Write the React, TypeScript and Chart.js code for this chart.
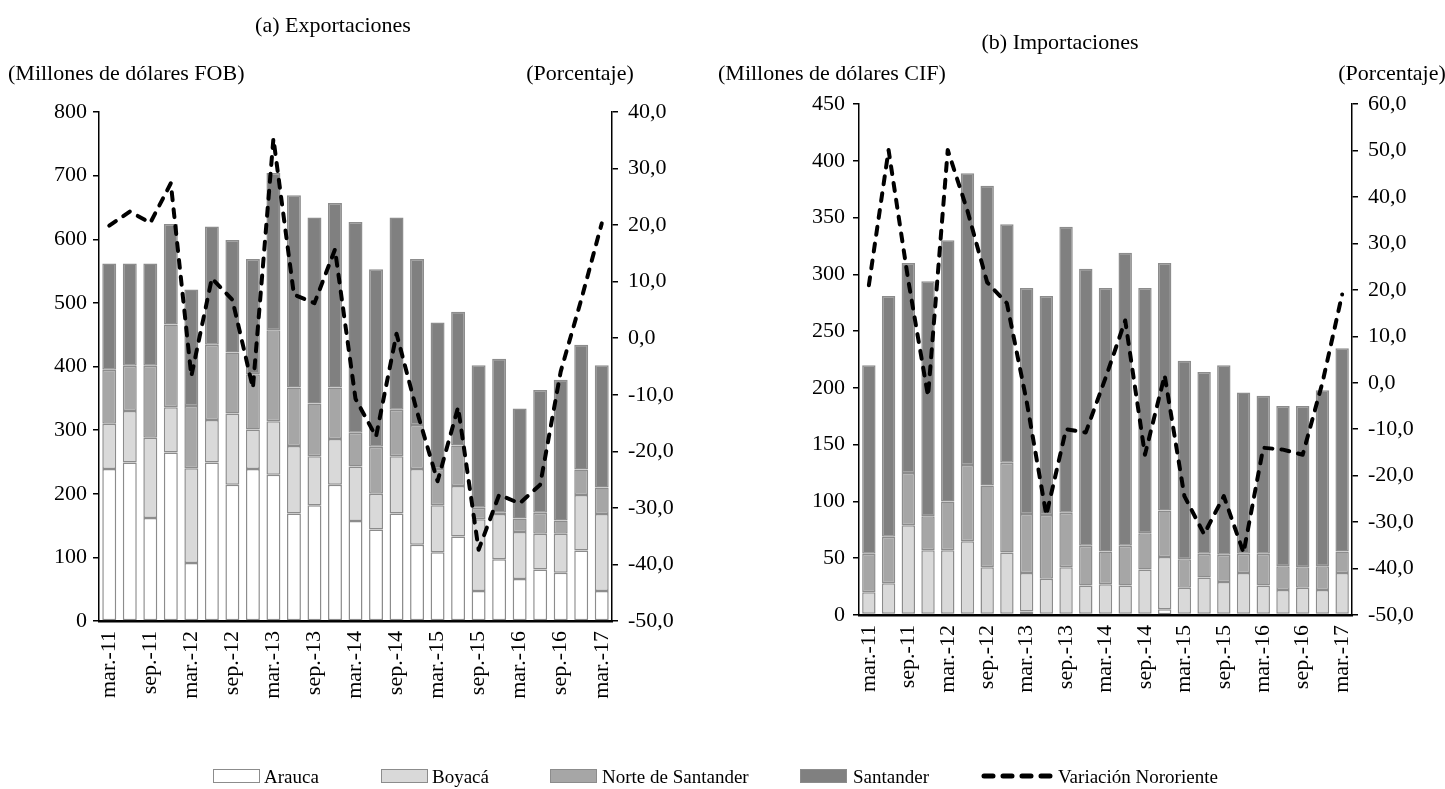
import React, { useEffect, useRef } from 'react';
import { Chart, registerables } from 'chart.js';

Chart.register(...registerables);

const FONT = '"Liberation Serif", "Times New Roman", serif';

// Quarterly categories (every second one is shown on the axis)
const categories = [
  'mar.-11', 'jun.-11', 'sep.-11', 'dic.-11',
  'mar.-12', 'jun.-12', 'sep.-12', 'dic.-12',
  'mar.-13', 'jun.-13', 'sep.-13', 'dic.-13',
  'mar.-14', 'jun.-14', 'sep.-14', 'dic.-14',
  'mar.-15', 'jun.-15', 'sep.-15', 'dic.-15',
  'mar.-16', 'jun.-16', 'sep.-16', 'dic.-16',
  'mar.-17',
];

const seriesNames = ['Arauca', 'Boyacá', 'Norte de Santander', 'Santander'];
const lineName = 'Variación Nororiente';

// (a) Exportaciones, millones de dólares FOB
const expArauca = [239, 249, 162, 265, 91, 249, 214, 239, 230, 169, 182, 214, 157, 144, 169, 120, 108, 133, 47, 97, 66, 81, 76, 111, 47];
const expBoyaca = [71, 81, 126, 71, 149, 67, 112, 62, 84, 106, 77, 72, 86, 56, 90, 119, 74, 79, 113, 71, 74, 56, 61, 87, 121];
const expNorte = [85, 71, 113, 130, 98, 118, 96, 87, 143, 92, 83, 81, 53, 74, 73, 69, 57, 64, 18, 2, 21, 33, 21, 40, 42];
const expSantander = [167, 161, 161, 158, 183, 186, 177, 181, 247, 302, 292, 290, 331, 279, 302, 261, 230, 210, 224, 242, 173, 193, 221, 196, 192];
const expVariacion = [19.9, 22.4, 20.4, 27.4, -6.7, 10.6, 6.8, -8.8, 35.3, 7.7, 6.2, 15.7, -10.7, -17.4, 0.8, -13.0, -25.3, -12.2, -37.4, -27.7, -29.2, -25.9, -5.9, 6.8, 20.3];

// (b) Importaciones, millones de dólares CIF
const impArauca = [1, 1, 1, 1, 1, 1, 1, 1, 3, 1, 1, 1, 1, 1, 1, 5, 1, 1, 1, 1, 1, 1, 1, 1, 1];
const impBoyaca = [19, 27, 78, 56, 56, 64, 41, 54, 34, 31, 41, 25, 26, 25, 39, 46, 23, 32, 28, 36, 25, 21, 23, 21, 36];
const impNorte = [34, 41, 46, 30, 43, 67, 72, 79, 52, 56, 48, 35, 29, 35, 32, 41, 25, 21, 24, 17, 28, 21, 18, 21, 19];
const impSantander = [166, 212, 185, 207, 230, 257, 264, 210, 199, 193, 252, 244, 232, 258, 216, 218, 175, 160, 167, 142, 139, 141, 142, 155, 179];
const impVariacion = [21.0, 50.1, 22.0, -2.9, 50.1, 37.0, 21.6, 17.1, -4.0, -28.5, -10.0, -10.7, 1.0, 13.4, -15.5, 1.6, -24.4, -32.6, -24.4, -36.6, -14.0, -14.4, -15.5, 0.0, 19.0];

const barFills = ['#ffffff', '#d9d9d9', '#a6a6a6', '#808080'];
const barBorder = '#8c8c8c';

type PanelSpec = {
  bars: number[][];
  line: number[];
  yMax: number;
  yStep: number;
  y1Min: number;
  y1Max: number;
  leftW: number;
  rightW: number;
  top: number;
  bottomH: number;
  barPct: number;
  yPad: number;
  y1Pad: number;
};

const pctFmt = (v: number) => v.toFixed(1).replace('.', ',');

function buildConfig(p: PanelSpec): any {
  const tickFont = { family: FONT, size: 22 };
  const barSets = p.bars.map((d, i) => ({
    type: 'bar',
    label: seriesNames[i],
    data: d,
    backgroundColor: barFills[i],
    borderColor: barBorder,
    borderWidth: 1.5,
    borderSkipped: false,
    yAxisID: 'y',
    order: 1,
    barPercentage: p.barPct,
    categoryPercentage: 1,
  }));
  return {
    type: 'bar',
    data: {
      labels: categories,
      datasets: [
        {
          type: 'line',
          label: lineName,
          data: p.line,
          yAxisID: 'y1',
          borderColor: '#000',
          borderWidth: 4,
          borderDash: [8, 9],
          borderCapStyle: 'round',
          borderJoinStyle: 'round',
          pointRadius: 0,
          tension: 0,
          fill: false,
          order: 0,
        },
        ...barSets,
      ],
    },
    options: {
      responsive: false,
      maintainAspectRatio: false,
      animation: false,
      layout: { padding: { top: p.top, left: 0, right: 0, bottom: 0 } },
      plugins: { legend: { display: false }, tooltip: { enabled: false }, title: { display: false } },
      scales: {
        x: {
          stacked: true,
          grid: { display: false, drawTicks: false },
          border: { display: true, color: '#000', width: 2.5 },
          ticks: {
            autoSkip: false,
            minRotation: 90,
            maxRotation: 90,
            color: '#000',
            font: tickFont,
            padding: 10,
            callback: (_v: any, i: number) => (i % 2 === 0 ? categories[i] : ''),
          },
          afterFit: (s: any) => {
            s.height = p.bottomH;
            s.paddingLeft = 0;
            s.paddingRight = 0;
          },
        },
        y: {
          position: 'left',
          stacked: true,
          min: 0,
          max: p.yMax,
          ticks: { stepSize: p.yStep, color: '#000', font: tickFont, padding: p.yPad },
          grid: { drawOnChartArea: false, drawTicks: true, tickLength: 6, color: '#000', lineWidth: 1.5 },
          border: { display: true, color: '#000', width: 1.5 },
          afterFit: (s: any) => {
            s.width = p.leftW;
            s.paddingTop = 0;
            s.paddingBottom = 0;
          },
        },
        y1: {
          position: 'right',
          min: p.y1Min,
          max: p.y1Max,
          ticks: { stepSize: 10, color: '#000', font: tickFont, padding: p.y1Pad, callback: (v: any) => pctFmt(Number(v)) },
          grid: { drawOnChartArea: false, drawTicks: true, tickLength: 6, color: '#000', lineWidth: 1.5 },
          border: { display: true, color: '#000', width: 1.5 },
          afterFit: (s: any) => {
            s.width = p.rightW;
            s.paddingTop = 0;
            s.paddingBottom = 0;
          },
        },
      },
    },
  };
}

function Panel({ spec, left, width, height }: { spec: PanelSpec; left: number; width: number; height: number }) {
  const ref = useRef<HTMLCanvasElement | null>(null);
  useEffect(() => {
    if (!ref.current) return;
    const chart = new Chart(ref.current, buildConfig(spec));
    return () => chart.destroy();
  }, [spec]);
  return (
    <canvas
      ref={ref}
      width={width}
      height={height}
      style={{ position: 'absolute', left, top: 0, width, height }}
    />
  );
}

function Txt({ x, y, children, center = false, size = 22 }: { x: number; y: number; children: any; center?: boolean; size?: number }) {
  return (
    <div
      style={{
        position: 'absolute',
        left: x,
        top: y,
        transform: center ? 'translate(-50%, -50%)' : 'translate(0, -50%)',
        whiteSpace: 'nowrap',
        fontFamily: FONT,
        fontSize: size,
        lineHeight: 1,
        color: '#000',
      }}
    >
      {children}
    </div>
  );
}

const leftSpec: PanelSpec = {
  bars: [expArauca, expBoyaca, expNorte, expSantander],
  line: expVariacion,
  yMax: 800,
  yStep: 100,
  y1Min: -50,
  y1Max: 40,
  leftW: 99,
  rightW: 108,
  top: 112,
  bottomH: 168,
  barPct: 0.68,
  yPad: 6,
  y1Pad: 10,
};

const rightSpec: PanelSpec = {
  bars: [impArauca, impBoyaca, impNorte, impSantander],
  line: impVariacion,
  yMax: 450,
  yStep: 50,
  y1Min: -50,
  y1Max: 60,
  leftW: 139,
  rightW: 93,
  top: 104,
  bottomH: 174,
  barPct: 0.68,
  yPad: 8,
  y1Pad: 10,
};

function LegendBox({ x, fill }: { x: number; fill: string }) {
  return (
    <div
      style={{
        position: 'absolute',
        left: x,
        top: 776 - 7,
        width: 47,
        height: 14,
        boxSizing: 'border-box',
        background: fill,
        border: `1.5px solid ${barBorder}`,
      }}
    />
  );
}

export default function App() {
  return (
    <div style={{ position: 'fixed', left: 0, top: 0, width: 1445, height: 789, background: '#fff', overflow: 'hidden' }}>
      <Panel spec={leftSpec} left={0} width={720} height={789} />
      <Panel spec={rightSpec} left={720} width={725} height={789} />

      <Txt x={333} y={25} center>(a) Exportaciones</Txt>
      <Txt x={8} y={73}>(Millones de dólares FOB)</Txt>
      <Txt x={580} y={73} center>(Porcentaje)</Txt>

      <Txt x={1060} y={42} center>(b) Importaciones</Txt>
      <Txt x={718} y={73}>(Millones de dólares CIF)</Txt>
      <Txt x={1392} y={73} center>(Porcentaje)</Txt>

      <LegendBox x={213} fill={barFills[0]} />
      <Txt x={264} y={776} size={19}>{seriesNames[0]}</Txt>
      <LegendBox x={381} fill={barFills[1]} />
      <Txt x={432} y={776} size={19}>{seriesNames[1]}</Txt>
      <LegendBox x={550} fill={barFills[2]} />
      <Txt x={602} y={776} size={19}>{seriesNames[2]}</Txt>
      <LegendBox x={800} fill={barFills[3]} />
      <Txt x={853} y={776} size={19}>{seriesNames[3]}</Txt>
      <svg style={{ position: 'absolute', left: 980, top: 770 }} width={74} height={12}>
        <line x1={4} y1={6} x2={70} y2={6} stroke="#000" strokeWidth={5} strokeDasharray="9 10" strokeLinecap="round" />
      </svg>
      <Txt x={1058} y={776} size={19}>{lineName}</Txt>
    </div>
  );
}
